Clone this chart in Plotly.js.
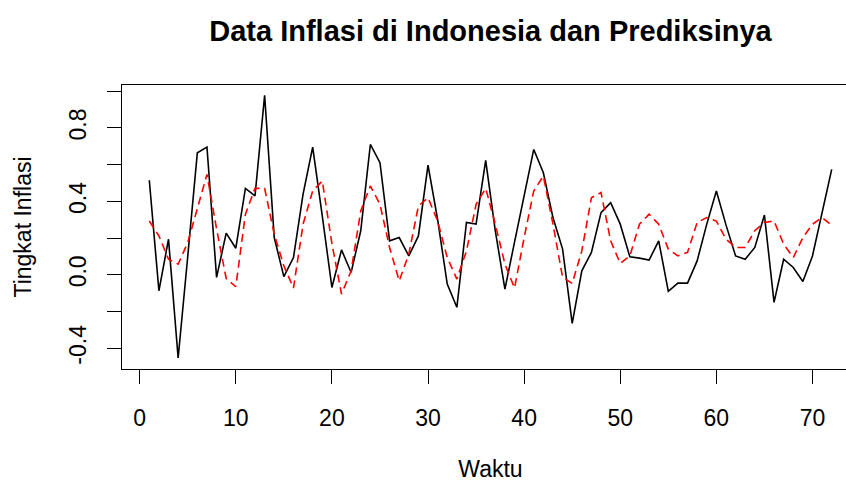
<!DOCTYPE html>
<html>
<head>
<meta charset="utf-8">
<script src="https://cdn.plot.ly/plotly-3.0.1.min.js"></script>
<style>
  html, body { margin: 0; padding: 0; overflow: hidden; background: #fff; }
  #chart { width: 880px; height: 482px; }
</style>
</head>
<body>
<div id="chart"></div>
<script>
// Time index (Waktu)
const waktu = Array.from({length: 72}, (_, i) => i + 1);

// Actual inflation (black line)
const inflasi = [
  0.515, -0.087, 0.194, -0.453, 0.10, 0.665, 0.696, -0.014, 0.227, 0.145,
  0.471, 0.43, 0.978, 0.203, -0.01, 0.094, 0.44, 0.696, 0.32, -0.069,
  0.136, 0.013, 0.24, 0.71, 0.611, 0.185, 0.203, 0.103, 0.212, 0.598,
  0.30, -0.05, -0.177, 0.285, 0.276, 0.623, 0.24, -0.078, 0.178, 0.439,
  0.683, 0.556, 0.312, 0.14, -0.264, 0.022, 0.122, 0.339, 0.393, 0.276,
  0.098, 0.091, 0.08, 0.185, -0.09, -0.045, -0.045, 0.076, 0.276, 0.457,
  0.272, 0.103, 0.085, 0.149, 0.326, -0.15, 0.085, 0.04, -0.036, 0.103, 0.34, 0.574
];

// Predicted inflation (red dashed line)
const prediksi = [
  0.293, 0.212, 0.085, 0.058, 0.176, 0.366, 0.547, 0.25, -0.02, -0.065,
  0.33, 0.471, 0.471, 0.221, 0.049, -0.072, 0.276, 0.457, 0.511, 0.17,
  -0.105, 0.022, 0.348, 0.484, 0.384, 0.149, -0.033, 0.113, 0.375, 0.42,
  0.293, 0.094, -0.023, 0.13, 0.384, 0.471, 0.276, 0.058, -0.072, 0.203,
  0.457, 0.538, 0.276, -0.014, -0.047, 0.13, 0.42, 0.448, 0.185, 0.062,
  0.103, 0.276, 0.33, 0.276, 0.14, 0.103, 0.122, 0.285, 0.312, 0.293,
  0.194, 0.149, 0.149, 0.24, 0.285, 0.293, 0.167, 0.094, 0.203, 0.276, 0.312, 0.27
];

// Axis ticks
const xTickVals = [0, 10, 20, 30, 40, 50, 60, 70];
const xTickText = ["0", "10", "20", "30", "40", "50", "60", "70"];
const yTickVals = [-0.4, -0.2, 0.0, 0.2, 0.4, 0.6, 0.8, 1.0];
const yTickText = ["-0.4", "", "0.0", "", "0.4", "", "0.8", ""];

const FONT = "'Liberation Sans', Arial, sans-serif";

const traces = [
  {
    x: waktu, y: inflasi, type: 'scatter', mode: 'lines',
    line: {color: '#000000', width: 1.6},
    name: 'Data', hoverinfo: 'x+y'
  },
  {
    x: waktu, y: prediksi, type: 'scatter', mode: 'lines',
    line: {color: '#FF0000', width: 1.6, dash: '8px,5px'},
    name: 'Prediksi', hoverinfo: 'x+y'
  }
];

const layout = {
  width: 880, height: 482,
  margin: {l: 122, r: 21.4, t: 85, b: 112.7},
  paper_bgcolor: '#ffffff', plot_bgcolor: '#ffffff',
  showlegend: false,
  font: {family: FONT, size: 23, color: '#000'},
  title: {
    text: '<b>Data Inflasi di Indonesia dan Prediksinya</b>',
    font: {family: FONT, size: 29, color: '#000'},
    x: 0.5, xref: 'paper', xanchor: 'center',
    y: 0.937, yref: 'container', yanchor: 'middle'
  },
  xaxis: {
    range: [-1.84, 74.84],
    tickmode: 'array', tickvals: xTickVals, ticktext: xTickText,
    ticks: 'outside', ticklen: 14, tickwidth: 1, tickcolor: '#000',
    ticklabelstandoff: 14,
    showgrid: false, zeroline: false,
    showline: true, linecolor: '#000', linewidth: 1, mirror: true,
    tickfont: {family: FONT, size: 23, color: '#000'},
    title: {text: 'Waktu', font: {family: FONT, size: 23, color: '#000'}, standoff: 33}
  },
  yaxis: {
    range: [-0.513, 1.034],
    tickmode: 'array', tickvals: yTickVals, ticktext: yTickText,
    tickangle: -90,
    ticks: 'outside', ticklen: 14, tickwidth: 1, tickcolor: '#000',
    ticklabelstandoff: 12,
    showgrid: false, zeroline: false,
    showline: true, linecolor: '#000', linewidth: 1, mirror: true,
    tickfont: {family: FONT, size: 23, color: '#000'},
    title: {text: 'Tingkat Inflasi', font: {family: FONT, size: 23, color: '#000'}, standoff: 26}
  }
};

Plotly.newPlot('chart', traces, layout, {displayModeBar: false, staticPlot: true});
</script>
</body>
</html>
